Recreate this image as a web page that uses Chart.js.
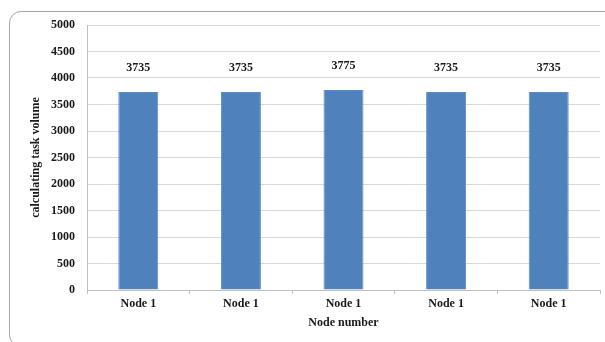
<!DOCTYPE html>
<html>
<head>
<meta charset="utf-8">
<script src="https://cdn.jsdelivr.net/npm/chart.js@4"></script>
<style>
  html, body { margin: 0; padding: 0; background: #fff; }
  #wrap { position: relative; width: 605px; height: 342px; overflow: hidden; }
  #frame {
    position: absolute; left: 9px; top: 11px; width: 700px; height: 336px;
    border: 1px solid #a6a6a6; border-radius: 12px; box-sizing: border-box;
  }
  canvas { position: absolute; left: 0; top: 0; }
</style>
</head>
<body>
<div id="wrap">
  <div id="frame"></div>
  <canvas id="c" width="605" height="342"></canvas>
</div>
<script>
// Task volume handled by each node
const categories = ['Node 1', 'Node 1', 'Node 1', 'Node 1', 'Node 1'];
const taskVolume = [3735, 3735, 3775, 3735, 3735];
const yTicks = [0, 500, 1000, 1500, 2000, 2500, 3000, 3500, 4000, 4500, 5000];

const serif = "'Liberation Serif', 'Times New Roman', serif";

// Value labels drawn above each bar
const valueLabels = {
  id: 'valueLabels',
  afterDatasetsDraw(chart) {
    const ctx = chart.ctx;
    const meta = chart.getDatasetMeta(0);
    ctx.save();
    ctx.font = 'bold 12px ' + serif;
    ctx.fillStyle = '#1a1a1a';
    ctx.textAlign = 'center';
    ctx.textBaseline = 'middle';
    meta.data.forEach((bar, i) => {
      ctx.fillText(String(taskVolume[i]), bar.x, bar.y - 24);
    });
    ctx.restore();
  }
};

new Chart(document.getElementById('c'), {
  type: 'bar',
  data: {
    labels: categories,
    datasets: [{
      data: taskVolume,
      backgroundColor: '#4f81bd',
      borderColor: '#5b8cc6',
      borderWidth: 1,
      barPercentage: 0.39,
      categoryPercentage: 1
    }]
  },
  options: {
    responsive: false,
    animation: false,
    devicePixelRatio: 1,
    layout: { padding: { left: 29, right: 5, top: 25, bottom: 0 } },
    plugins: { legend: { display: false }, tooltip: { enabled: false } },
    scales: {
      x: {
        grid: { display: true, drawOnChartArea: false, offset: true, tickLength: 4, color: '#bfbfbf' },
        border: { color: '#bfbfbf' },
        ticks: { padding: 3, color: '#1a1a1a', font: { family: serif, size: 12, weight: 'bold' } },
        title: {
          display: true, text: 'Node number', color: '#1a1a1a',
          font: { family: serif, size: 12, weight: 'bold' },
          padding: { top: 0, bottom: 12 }
        },
        afterFit(s) { s.height = 52; }
      },
      y: {
        min: 0, max: 5000,
        afterBuildTicks(s) { s.ticks = yTicks.map(v => ({ value: v })); },
        grid: { color: '#d9d9d9', drawTicks: false, tickLength: 0 },
        border: { color: '#bfbfbf' },
        ticks: {
          padding: 12, color: '#1a1a1a',
          font: { family: serif, size: 12, weight: 'bold' },
          callback: (v) => String(v)
        },
        title: {
          display: true, text: 'calculating task volume', color: '#1a1a1a',
          font: { family: serif, size: 12, weight: 'bold' },
          padding: { top: 0, bottom: 0 }
        },
        afterFit(s) { s.width = 58; }
      }
    }
  },
  plugins: [valueLabels]
});
</script>
</body>
</html>
